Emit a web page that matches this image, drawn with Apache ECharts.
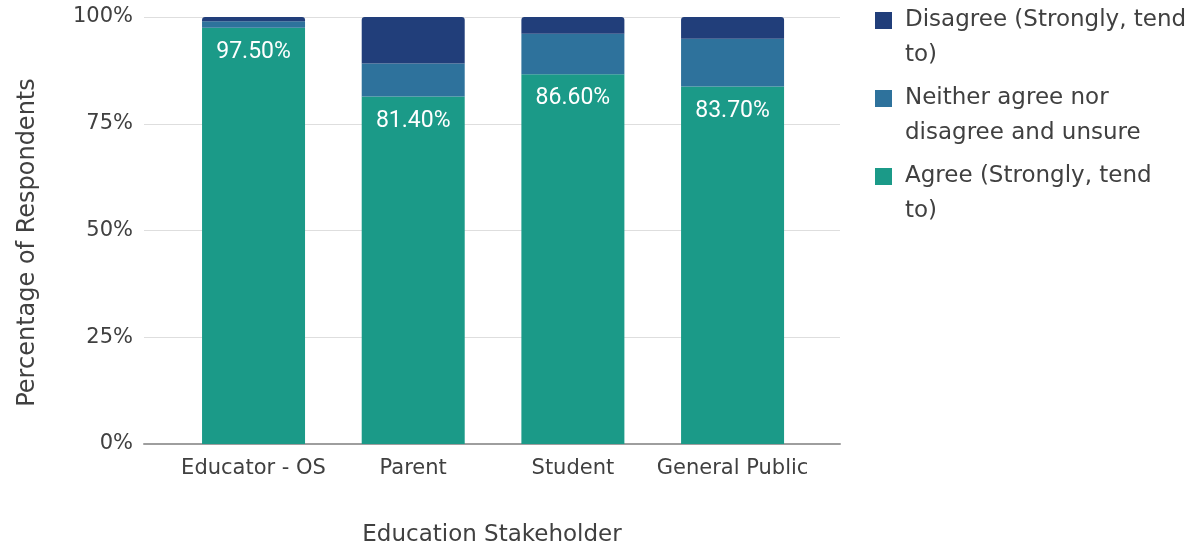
<!DOCTYPE html>
<html>
<head>
<meta charset="utf-8">
<title>Education Stakeholder Responses</title>
<script src="https://cdn.jsdelivr.net/npm/echarts@6/dist/echarts.min.js"></script>
<style>
  html, body { margin: 0; padding: 0; background: #ffffff; }
  #chart { width: 1199px; height: 548px; }
</style>
</head>
<body>
<div id="chart"></div>
<script>
// Stakeholder groups on the x axis
const categories = ['Educator - OS', 'Parent', 'Student', 'General Public'];

// Share of respondents per group (percent), stacked bottom to top
const agree    = [97.5, 81.4, 86.6, 83.7];
const neutral  = [1.5, 7.7, 9.5, 11.2];
const disagree = [1.0, 10.9, 3.9, 5.1];

// Value axis ticks (percent)
const yTicks = [0, 25, 50, 75, 100];

const nameAgree    = 'Agree (Strongly, tend to)';
const nameNeutral  = 'Neither agree nor disagree and unsure';
const nameDisagree = 'Disagree (Strongly, tend to)';

// Legend entries wrapped onto two lines; the leading blank line lifts the
// swatch level with the first line of text
const legendText = {};
legendText[nameDisagree] = '\nDisagree (Strongly, tend\nto)';
legendText[nameNeutral]  = '\nNeither agree nor\ndisagree and unsure';
legendText[nameAgree]    = '\nAgree (Strongly, tend\nto)';

const COLORS = {
  agree: '#1b9a88',
  neutral: '#2e729c',
  disagree: '#213e7a'
};
const TEXT = '#404040';
const FONT = 'DejaVu Sans';

const chart = echarts.init(document.getElementById('chart'), null, { renderer: 'canvas' });

const plotTop = 17, plotHeight = 427;

chart.setOption({
  animation: false,
  backgroundColor: '#ffffff',
  textStyle: { fontFamily: FONT },
  grid: [
    // frame: gridlines, baseline and axis titles
    { left: 144, top: plotTop, width: 696, height: plotHeight, outerBoundsMode: 'none', containLabel: false },
    // bars sit in a narrower band inside the frame
    { left: 173.7, top: plotTop, width: 638.7, height: plotHeight, outerBoundsMode: 'none', containLabel: false }
  ],
  legend: {
    orient: 'vertical',
    left: 875,
    top: -32,
    padding: 0,
    icon: 'rect',
    itemWidth: 17,
    itemHeight: 17,
    itemGap: -27,
    selectedMode: false,
    data: [nameDisagree, nameNeutral, nameAgree],
    formatter: function (name) { return legendText[name]; },
    textStyle: {
      fontFamily: FONT,
      fontSize: 23,
      color: TEXT,
      lineHeight: 35,
      padding: [0, 0, 0, 8]
    }
  },
  xAxis: [
    {
      gridIndex: 0,
      type: 'value',
      min: 0,
      max: 1,
      axisLabel: { show: false },
      axisTick: { show: false },
      splitLine: { show: false },
      axisLine: { show: true, lineStyle: { color: '#9e9e9e', width: 2 } },
      name: 'Education Stakeholder',
      nameLocation: 'middle',
      nameGap: 80,
      nameTextStyle: { fontFamily: FONT, fontSize: 23, color: TEXT }
    },
    {
      gridIndex: 1,
      type: 'category',
      data: categories,
      axisLine: { show: false },
      axisTick: { show: false },
      axisLabel: { margin: 14, fontFamily: FONT, fontSize: 21, color: TEXT, interval: 0 }
    }
  ],
  yAxis: [
    {
      gridIndex: 0,
      type: 'value',
      min: yTicks[0],
      max: yTicks[yTicks.length - 1],
      interval: yTicks[1] - yTicks[0],
      axisLine: { show: false },
      axisTick: { show: false },
      axisLabel: { formatter: '{value}%', margin: 11, fontFamily: FONT, fontSize: 21, color: TEXT },
      splitLine: { show: true, lineStyle: { color: '#dedede', width: 1 } },
      name: 'Percentage of Respondents',
      nameLocation: 'middle',
      nameGap: 104,
      nameTextStyle: { fontFamily: FONT, fontSize: 24, color: TEXT, padding: [0, 24, 0, 0] }
    },
    {
      gridIndex: 1,
      type: 'value',
      min: yTicks[0],
      max: yTicks[yTicks.length - 1],
      show: false
    }
  ],
  series: [
    {
      name: nameAgree,
      type: 'bar',
      stack: 'total',
      xAxisIndex: 1,
      yAxisIndex: 1,
      barWidth: 103,
      data: agree,
      itemStyle: { color: COLORS.agree },
      label: {
        show: true,
        position: 'insideTop',
        distance: 13,
        formatter: function (p) { return p.value.toFixed(2) + '%'; },
        color: '#ffffff',
        fontFamily: 'Roboto',
        fontSize: 23
      }
    },
    {
      name: nameNeutral,
      type: 'bar',
      stack: 'total',
      xAxisIndex: 1,
      yAxisIndex: 1,
      barWidth: 103,
      data: neutral,
      itemStyle: { color: COLORS.neutral }
    },
    {
      name: nameDisagree,
      type: 'bar',
      stack: 'total',
      xAxisIndex: 1,
      yAxisIndex: 1,
      barWidth: 103,
      data: disagree,
      itemStyle: { color: COLORS.disagree, borderRadius: [3, 3, 0, 0] }
    }
  ]
});
</script>
</body>
</html>
